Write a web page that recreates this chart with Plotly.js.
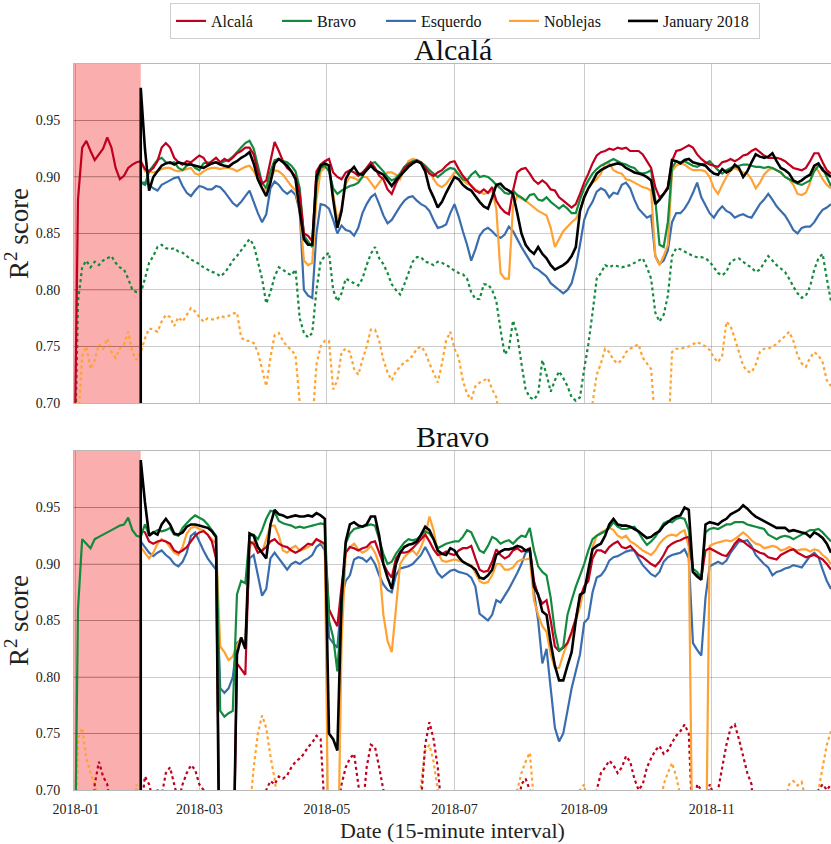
<!DOCTYPE html>
<html>
<head>
<meta charset="utf-8">
<script src="https://cdn.plot.ly/plotly-3.0.1.min.js"></script>
<style>
  html, body { margin: 0; padding: 0; background: #ffffff; }
  #chart { width: 831px; height: 844px; }
</style>
</head>
<body>
<div id="chart"></div>
<script>
// ---------------------------------------------------------------------------
// Rolling R² score of each station model, sampled every two days of 2018.
// Grid index i corresponds to 2017-12-31 + 2*i days (i = 0 .. 181).
// Models evaluated from February start at grid index 16 (2018-02-01).
// Values below 0.70 fall outside the plotted range and are clipped.
// ---------------------------------------------------------------------------
const gridStart = '2017-12-31';
const gridStepDays = 2;
const gridLength = 182;
const febIndex = 16;
const trainingWindowEnd = '2018-02-01';

const modelNames = ['Alcalá', 'Bravo', 'Esquerdo', 'Noblejas', 'January 2018'];
const panelTitles = ['Alcalá', 'Bravo'];
const monthTicks = ['2018-01-01', '2018-03-01', '2018-05-01', '2018-07-01', '2018-09-01', '2018-11-01'];
const scoreTicks = [0.70, 0.75, 0.80, 0.85, 0.90, 0.95];
const scoreRange = [0.70, 1.00];

// ----- Alcalá station -------------------------------------------------------
const alcalaAlcala = [
  0.60, 0.88, 0.926, 0.932, 0.923, 0.915, 0.92, 0.925, 0.935, 0.926, 0.908, 0.898, 0.901, 0.908, 0.911, 0.913,
  0.914, 0.907, 0.905, 0.908, 0.914, 0.926, 0.93, 0.926, 0.917, 0.913,
  0.911, 0.914, 0.913, 0.916, 0.919, 0.917, 0.911, 0.914, 0.917, 0.913,
  0.916, 0.914, 0.917, 0.921, 0.923, 0.926, 0.926, 0.92, 0.905, 0.894,
  0.897, 0.914, 0.931, 0.923, 0.914, 0.908, 0.905, 0.90, 0.885, 0.85,
  0.848, 0.843, 0.905, 0.911, 0.914, 0.916,
  0.904, 0.90, 0.898, 0.904, 0.906, 0.904, 0.901, 0.904, 0.908, 0.913,
  0.908, 0.901, 0.898, 0.889, 0.885, 0.894, 0.901, 0.908, 0.911, 0.913,
  0.914, 0.913, 0.908, 0.903, 0.901, 0.904, 0.906, 0.91, 0.913, 0.914,
  0.907, 0.901, 0.897, 0.892, 0.888, 0.886, 0.889, 0.886, 0.891, 0.879,
  0.873, 0.869, 0.867, 0.888, 0.904, 0.907, 0.908, 0.903, 0.897, 0.894,
  0.897, 0.894, 0.889, 0.888, 0.882, 0.879, 0.876, 0.873, 0.876,
  0.885, 0.895, 0.903, 0.912, 0.919, 0.922, 0.923, 0.925, 0.924, 0.926,
  0.925, 0.926, 0.923, 0.923, 0.923, 0.92, 0.914, 0.908, 0.891, 0.882,
  0.885, 0.891, 0.914, 0.923, 0.924, 0.926, 0.928, 0.926, 0.92, 0.916,
  0.913, 0.911, 0.91, 0.909, 0.913, 0.914, 0.916, 0.914, 0.916, 0.919,
  0.92, 0.923, 0.925, 0.922, 0.919, 0.917, 0.917, 0.917, 0.916, 0.914,
  0.911, 0.908, 0.907, 0.906, 0.908, 0.914, 0.921, 0.921, 0.913, 0.906,
  0.903
];
const alcalaBravo = [
  0.895, 0.893, 0.905, 0.91, 0.915, 0.917, 0.913, 0.912, 0.913, 0.908,
  0.906, 0.91, 0.912, 0.908, 0.906, 0.912, 0.913, 0.912, 0.913, 0.912,
  0.914, 0.915, 0.918, 0.922, 0.926, 0.93, 0.932, 0.925, 0.91, 0.895,
  0.89, 0.905, 0.915, 0.916, 0.914, 0.913, 0.91, 0.905, 0.89, 0.848,
  0.843, 0.838, 0.895, 0.908, 0.91, 0.905,
  0.89, 0.885, 0.888, 0.89, 0.892, 0.893, 0.895, 0.9, 0.908, 0.912,
  0.913, 0.909, 0.905, 0.9, 0.897, 0.899, 0.903, 0.909, 0.912, 0.914,
  0.915, 0.913, 0.91, 0.906, 0.903, 0.9, 0.903, 0.906, 0.908, 0.907,
  0.902, 0.898, 0.897, 0.902, 0.905, 0.9, 0.901, 0.9, 0.897, 0.893,
  0.89, 0.886, 0.885, 0.888, 0.884, 0.882, 0.879, 0.884, 0.885, 0.88,
  0.879, 0.882, 0.878, 0.875, 0.872, 0.875, 0.872, 0.868, 0.868,
  0.88, 0.89, 0.897, 0.903, 0.907, 0.91, 0.912, 0.914, 0.916, 0.914,
  0.912, 0.911, 0.909, 0.908, 0.904, 0.903, 0.904, 0.906, 0.88, 0.84,
  0.838, 0.86, 0.908, 0.914, 0.913, 0.914, 0.912, 0.91, 0.909, 0.911,
  0.912, 0.914, 0.91, 0.906, 0.903, 0.906, 0.908, 0.909, 0.91, 0.911,
  0.911, 0.91, 0.909, 0.909, 0.908, 0.909, 0.908, 0.906, 0.904, 0.9,
  0.898, 0.896, 0.894, 0.893, 0.895, 0.897, 0.905, 0.91, 0.908, 0.9,
  0.892
];
const alcalaEsquerdo = [
  0.895, 0.895, 0.893, 0.89, 0.888, 0.893, 0.895, 0.897, 0.899, 0.9,
  0.892, 0.886, 0.883, 0.888, 0.892, 0.891, 0.889, 0.889, 0.892, 0.891,
  0.887, 0.882, 0.877, 0.874, 0.878, 0.883, 0.888, 0.878, 0.868, 0.86,
  0.867, 0.89, 0.896, 0.893, 0.888, 0.885, 0.888, 0.884, 0.87, 0.80,
  0.795, 0.793, 0.85, 0.876, 0.875, 0.872,
  0.862, 0.85, 0.857, 0.853, 0.852, 0.848, 0.855, 0.868, 0.876, 0.882,
  0.885, 0.876, 0.866, 0.859, 0.862, 0.868, 0.874, 0.879, 0.882, 0.883,
  0.879, 0.876, 0.874, 0.87, 0.862, 0.855, 0.856, 0.858, 0.868, 0.876,
  0.865, 0.852, 0.84, 0.826, 0.836, 0.848, 0.853, 0.855, 0.852, 0.848,
  0.846, 0.849, 0.856, 0.852, 0.845, 0.838, 0.832, 0.826, 0.82, 0.818,
  0.815, 0.812, 0.806, 0.803, 0.80, 0.797, 0.80, 0.806, 0.82,
  0.84, 0.862, 0.872, 0.878, 0.887, 0.89, 0.888, 0.882, 0.886, 0.885,
  0.893, 0.895, 0.89, 0.88, 0.872, 0.868, 0.864, 0.866, 0.83, 0.823,
  0.826, 0.835, 0.86, 0.868, 0.868, 0.872, 0.878, 0.886, 0.895, 0.882,
  0.875, 0.868, 0.864, 0.87, 0.874, 0.87, 0.868, 0.864, 0.866, 0.867,
  0.865, 0.864, 0.87, 0.876, 0.88, 0.885, 0.88, 0.874, 0.87, 0.866,
  0.86, 0.853, 0.85, 0.855, 0.856, 0.856, 0.86, 0.866, 0.871, 0.873,
  0.876
];
const alcalaNoblejas = [
  0.915, 0.905, 0.905, 0.904, 0.905, 0.907, 0.908, 0.908, 0.906, 0.905,
  0.906, 0.907, 0.908, 0.903, 0.902, 0.905, 0.907, 0.908, 0.908, 0.907,
  0.908, 0.908, 0.907, 0.905, 0.907, 0.909, 0.91, 0.905, 0.898, 0.89,
  0.888, 0.898, 0.906, 0.905, 0.902, 0.897, 0.892, 0.888, 0.87, 0.826,
  0.822, 0.824, 0.88, 0.905, 0.908, 0.908,
  0.885, 0.862, 0.872, 0.894, 0.9, 0.899, 0.897, 0.9, 0.9, 0.895,
  0.89, 0.895, 0.9, 0.904, 0.904, 0.902, 0.898, 0.907, 0.914, 0.916,
  0.915, 0.913, 0.91, 0.906, 0.898, 0.893, 0.891, 0.894, 0.899, 0.904,
  0.903, 0.897, 0.894, 0.893, 0.889, 0.887, 0.885, 0.886, 0.888, 0.872,
  0.815, 0.81, 0.81, 0.875, 0.883, 0.881, 0.879, 0.876, 0.873, 0.87,
  0.868, 0.866, 0.855, 0.838, 0.845, 0.852, 0.856, 0.86, 0.863,
  0.87, 0.882, 0.89, 0.895, 0.898, 0.903, 0.912, 0.912, 0.906, 0.904,
  0.903, 0.898, 0.897, 0.895, 0.893, 0.891, 0.89, 0.888, 0.83, 0.822,
  0.83, 0.84, 0.905, 0.91, 0.912, 0.911, 0.908, 0.906, 0.906, 0.906,
  0.905, 0.9, 0.89, 0.885, 0.893, 0.9, 0.906, 0.908, 0.906, 0.904,
  0.903, 0.898, 0.89, 0.895, 0.902, 0.906, 0.908, 0.906, 0.904, 0.9,
  0.898, 0.893, 0.885, 0.884, 0.886, 0.895, 0.91, 0.905, 0.898, 0.893,
  0.89
];
const alcalaJanuaryStart = 0.55;
const alcalaJanuary = [
  0.979, 0.925, 0.888, 0.9, 0.905, 0.91, 0.912, 0.913, 0.911, 0.913,
  0.912, 0.911, 0.911, 0.91, 0.909, 0.908, 0.91, 0.912, 0.913, 0.911,
  0.91, 0.909, 0.912, 0.914, 0.917, 0.919, 0.922, 0.912, 0.898, 0.89,
  0.883, 0.895, 0.912, 0.916, 0.913, 0.91, 0.905, 0.898, 0.87, 0.845,
  0.84, 0.84, 0.9, 0.91, 0.912, 0.91,
  0.88, 0.855, 0.87, 0.898, 0.905, 0.909, 0.903, 0.902, 0.906, 0.91,
  0.906, 0.904, 0.902, 0.897, 0.892, 0.897, 0.901, 0.905, 0.909, 0.912,
  0.914, 0.912, 0.905, 0.89, 0.882, 0.873, 0.878, 0.886, 0.893, 0.9,
  0.898, 0.893, 0.89, 0.888, 0.883, 0.878, 0.874, 0.872, 0.882, 0.893,
  0.894, 0.89, 0.888, 0.885, 0.868, 0.85, 0.84, 0.835, 0.832, 0.838,
  0.832, 0.828, 0.822, 0.818, 0.82, 0.822, 0.825, 0.83, 0.838,
  0.87, 0.882, 0.89, 0.896, 0.903, 0.906, 0.908, 0.91, 0.911, 0.912,
  0.911, 0.908, 0.906, 0.904, 0.903, 0.902, 0.9, 0.897, 0.876, 0.88,
  0.885, 0.89, 0.915, 0.914, 0.912, 0.915, 0.916, 0.913, 0.912, 0.911,
  0.91, 0.906, 0.903, 0.902, 0.907, 0.904, 0.906, 0.911, 0.908, 0.9,
  0.905, 0.913, 0.92, 0.918, 0.917, 0.918, 0.921, 0.914, 0.908, 0.906,
  0.903, 0.897, 0.895, 0.897, 0.9, 0.902, 0.91, 0.912, 0.906, 0.903,
  0.9
];
// Reference scores of the Bravo and Noblejas models applied without retraining
const alcalaBravoReference = [
  0.60, 0.79, 0.82, 0.826, 0.82, 0.825, 0.822, 0.826, 0.828, 0.83, 0.824, 0.82, 0.818, 0.81, 0.80, 0.798,
  0.797, 0.81, 0.824, 0.83, 0.838, 0.84, 0.837, 0.836, 0.837, 0.834,
  0.833, 0.83, 0.827, 0.825, 0.823, 0.82, 0.818, 0.816, 0.815, 0.812,
  0.815, 0.82, 0.826, 0.83, 0.835, 0.84, 0.845, 0.84, 0.825, 0.81,
  0.788, 0.798, 0.812, 0.82, 0.818, 0.815, 0.813, 0.818, 0.775, 0.762,
  0.758, 0.762, 0.80, 0.825, 0.83, 0.833,
  0.80, 0.79, 0.797, 0.81, 0.808, 0.806, 0.804, 0.81, 0.822, 0.832,
  0.838, 0.828, 0.823, 0.815, 0.805, 0.80, 0.796, 0.805, 0.815, 0.825,
  0.829, 0.829, 0.825, 0.824, 0.822, 0.825, 0.824, 0.822, 0.82, 0.817,
  0.815, 0.814, 0.81, 0.798, 0.792, 0.792, 0.805, 0.805, 0.80, 0.79,
  0.765, 0.743, 0.748, 0.773, 0.76, 0.735, 0.712, 0.705, 0.703, 0.708,
  0.738, 0.725, 0.71, 0.72, 0.728, 0.722, 0.715, 0.705, 0.702,
  0.705, 0.73, 0.752, 0.78, 0.81, 0.815, 0.822, 0.82, 0.822, 0.821,
  0.82, 0.821, 0.822, 0.824, 0.826, 0.828, 0.82, 0.81, 0.78, 0.772,
  0.778, 0.795, 0.83, 0.837, 0.836, 0.834, 0.832, 0.83, 0.829, 0.829,
  0.828, 0.825, 0.82, 0.815, 0.813, 0.816, 0.825, 0.827, 0.828, 0.825,
  0.822, 0.82, 0.816, 0.818, 0.824, 0.83, 0.826, 0.822, 0.819, 0.816,
  0.81, 0.803, 0.797, 0.793, 0.795, 0.803, 0.818, 0.828, 0.832, 0.81,
  0.79
];
const alcalaNoblejasReference = [
  0.55, 0.68, 0.742, 0.75, 0.73, 0.738, 0.752, 0.748, 0.757, 0.745, 0.74, 0.748, 0.752, 0.763, 0.745, 0.738,
  0.745, 0.757, 0.766, 0.765, 0.763, 0.772, 0.778, 0.776, 0.768, 0.776,
  0.772, 0.778, 0.784, 0.781, 0.776, 0.772, 0.775, 0.774, 0.774, 0.777,
  0.776, 0.777, 0.779, 0.78, 0.758, 0.755, 0.755, 0.753, 0.745, 0.73,
  0.715, 0.74, 0.76, 0.762, 0.755, 0.75, 0.747, 0.742, 0.70, 0.66,
  0.66, 0.68, 0.734, 0.75, 0.755, 0.755,
  0.712, 0.72, 0.745, 0.748, 0.745, 0.73, 0.725, 0.738, 0.75, 0.765,
  0.765, 0.755, 0.738, 0.727, 0.72, 0.728, 0.732, 0.736, 0.738, 0.742,
  0.748, 0.75, 0.745, 0.735, 0.727, 0.718, 0.735, 0.755, 0.763, 0.748,
  0.74, 0.72, 0.708, 0.703, 0.715, 0.718, 0.72, 0.722, 0.712, 0.705,
  0.68, 0.65, 0.65, 0.65, 0.65, 0.65, 0.65, 0.65, 0.65, 0.65,
  0.65, 0.65, 0.65, 0.65, 0.65, 0.65, 0.65, 0.65, 0.65,
  0.65, 0.65, 0.65, 0.7, 0.725, 0.735, 0.748, 0.745, 0.738, 0.735,
  0.738, 0.745, 0.748, 0.75, 0.752, 0.74, 0.735, 0.73, 0.68, 0.65,
  0.65, 0.66, 0.745, 0.748, 0.748, 0.749, 0.75, 0.752, 0.754, 0.752,
  0.75, 0.747, 0.74, 0.736, 0.742, 0.772, 0.768, 0.757, 0.745, 0.733,
  0.728, 0.727, 0.734, 0.745, 0.748, 0.748, 0.75, 0.752, 0.756, 0.759,
  0.763, 0.755, 0.742, 0.735, 0.732, 0.74, 0.745, 0.742, 0.736, 0.72,
  0.715
];

// ----- Bravo station --------------------------------------------------------
const bravoBravo = [
  0.55, 0.86, 0.922, 0.918, 0.914, 0.922, 0.924, 0.926, 0.928, 0.93, 0.932, 0.934, 0.935, 0.941, 0.93, 0.925,
  0.924, 0.935, 0.926, 0.928, 0.93, 0.929, 0.93, 0.932, 0.926, 0.925,
  0.932, 0.936, 0.94, 0.943, 0.941, 0.939, 0.935, 0.93, 0.925, 0.77,
  0.765, 0.768, 0.77, 0.873, 0.885, 0.883, 0.925, 0.926, 0.922, 0.93,
  0.94, 0.947, 0.946, 0.938, 0.936, 0.935, 0.934, 0.932, 0.933, 0.932,
  0.933, 0.934, 0.935, 0.936, 0.935, 0.85,
  0.835, 0.805, 0.86, 0.918, 0.927, 0.931, 0.932, 0.933, 0.934, 0.935,
  0.934, 0.922, 0.909, 0.9, 0.902, 0.909, 0.914, 0.919, 0.922, 0.921,
  0.922, 0.925, 0.929, 0.927, 0.922, 0.914, 0.916, 0.918, 0.919, 0.92,
  0.92, 0.924, 0.93, 0.928, 0.92, 0.912, 0.91, 0.916, 0.924, 0.922,
  0.918, 0.92, 0.921, 0.918, 0.922, 0.925, 0.924, 0.932, 0.912, 0.898,
  0.893, 0.89, 0.87, 0.84, 0.823, 0.827, 0.855, 0.868, 0.88,
  0.89, 0.9, 0.912, 0.922, 0.925, 0.927, 0.929, 0.932, 0.937, 0.933,
  0.931, 0.931, 0.932, 0.933, 0.928, 0.922, 0.917, 0.92, 0.924, 0.93,
  0.936, 0.938, 0.937, 0.94, 0.941, 0.94, 0.93, 0.896, 0.893, 0.888,
  0.928, 0.931, 0.932, 0.931, 0.933, 0.935, 0.935, 0.937, 0.937, 0.937,
  0.935, 0.934, 0.933, 0.932, 0.931, 0.926, 0.924, 0.922, 0.924, 0.925,
  0.924, 0.922, 0.924, 0.926, 0.928, 0.93, 0.93, 0.931, 0.928, 0.924,
  0.92
];
const bravoAlcala = [
  0.93, 0.928, 0.92, 0.918, 0.92, 0.921, 0.92, 0.918, 0.912, 0.91,
  0.912, 0.915, 0.92, 0.925, 0.928, 0.929, 0.926, 0.92, 0.905, 0.6,
  0.6, 0.6, 0.6, 0.812, 0.807, 0.802, 0.92, 0.918, 0.91, 0.912,
  0.915, 0.92, 0.922, 0.918, 0.916, 0.915, 0.912, 0.91, 0.912, 0.915,
  0.918, 0.917, 0.922, 0.92, 0.918, 0.86,
  0.852, 0.845, 0.88, 0.91, 0.915, 0.914, 0.912, 0.914, 0.915, 0.919,
  0.92, 0.91, 0.9, 0.893, 0.888, 0.905, 0.91, 0.91, 0.911, 0.914,
  0.918, 0.922, 0.926, 0.92, 0.913, 0.908, 0.909, 0.911, 0.909, 0.908,
  0.912, 0.914, 0.914, 0.916, 0.905, 0.895, 0.893, 0.894, 0.902, 0.913,
  0.908, 0.905, 0.907, 0.912, 0.914, 0.911, 0.912, 0.914, 0.885, 0.872,
  0.865, 0.868, 0.85, 0.827, 0.823, 0.826, 0.83, 0.84, 0.852,
  0.87, 0.88, 0.885, 0.905, 0.912, 0.912, 0.91, 0.915, 0.918, 0.92,
  0.915, 0.914, 0.916, 0.912, 0.908, 0.906, 0.903, 0.9, 0.898, 0.902,
  0.908, 0.915, 0.918, 0.92, 0.921, 0.923, 0.924, 0.893, 0.89, 0.888,
  0.912, 0.914, 0.912, 0.91, 0.908, 0.907, 0.912, 0.918, 0.922, 0.92,
  0.917, 0.914, 0.912, 0.91, 0.909, 0.906, 0.905, 0.904, 0.908, 0.91,
  0.912, 0.913, 0.91, 0.908, 0.906, 0.907, 0.908, 0.906, 0.904, 0.9,
  0.895
];
const bravoEsquerdo = [
  0.92, 0.915, 0.91, 0.907, 0.91, 0.912, 0.908, 0.905, 0.9, 0.898,
  0.902, 0.91, 0.925, 0.928, 0.92, 0.912, 0.905, 0.9, 0.895, 0.79,
  0.786, 0.79, 0.80, 0.83, 0.833, 0.83, 0.905, 0.908, 0.89, 0.872,
  0.878, 0.905, 0.91, 0.905, 0.9, 0.895, 0.9, 0.902, 0.9, 0.903,
  0.905, 0.908, 0.915, 0.918, 0.912, 0.835,
  0.83, 0.826, 0.87, 0.885, 0.89, 0.904, 0.906, 0.905, 0.902, 0.906,
  0.9, 0.89, 0.882, 0.877, 0.875, 0.89, 0.896, 0.897, 0.898, 0.9,
  0.904, 0.908, 0.915, 0.908, 0.9, 0.892, 0.888, 0.891, 0.894, 0.895,
  0.893, 0.892, 0.891, 0.888, 0.88, 0.856, 0.853, 0.85, 0.855, 0.868,
  0.866, 0.872, 0.878, 0.885, 0.892, 0.9, 0.91, 0.912, 0.875, 0.85,
  0.812, 0.825, 0.79, 0.755, 0.743, 0.75, 0.77, 0.79, 0.805,
  0.82, 0.848, 0.852, 0.875, 0.888, 0.89, 0.895, 0.903, 0.906, 0.907,
  0.909, 0.911, 0.912, 0.912, 0.905, 0.899, 0.895, 0.891, 0.889, 0.893,
  0.902, 0.906, 0.908, 0.909, 0.91, 0.913, 0.905, 0.83, 0.824, 0.819,
  0.87, 0.898, 0.9, 0.902, 0.9, 0.903, 0.91, 0.915, 0.92, 0.92,
  0.921, 0.916, 0.908, 0.904, 0.9, 0.897, 0.89, 0.893, 0.894, 0.896,
  0.897, 0.899, 0.898, 0.897, 0.902, 0.907, 0.91, 0.906, 0.895, 0.885,
  0.878
];
const bravoNoblejas = [
  0.915, 0.91, 0.905, 0.91, 0.918, 0.922, 0.92, 0.915, 0.91, 0.908,
  0.915, 0.927, 0.932, 0.933, 0.931, 0.93, 0.926, 0.922, 0.918, 0.827,
  0.822, 0.815, 0.818, 0.828, 0.835, 0.828, 0.915, 0.92, 0.915, 0.91,
  0.922, 0.934, 0.934, 0.925, 0.912, 0.91, 0.914, 0.916, 0.912, 0.913,
  0.915, 0.918, 0.922, 0.92, 0.915, 0.6,
  0.6, 0.6, 0.83, 0.91, 0.915, 0.918, 0.913, 0.91, 0.912, 0.916,
  0.91, 0.9, 0.855, 0.832, 0.822, 0.86, 0.9, 0.906, 0.91, 0.912,
  0.908, 0.915, 0.925, 0.942, 0.93, 0.91, 0.903, 0.902, 0.903, 0.904,
  0.903, 0.902, 0.9, 0.899, 0.892, 0.885, 0.883, 0.884, 0.89, 0.9,
  0.9, 0.895, 0.895, 0.897, 0.902, 0.904, 0.904, 0.905, 0.868, 0.855,
  0.845, 0.84, 0.82, 0.808, 0.808, 0.82, 0.83, 0.838, 0.85,
  0.862, 0.88, 0.89, 0.915, 0.925, 0.928, 0.93, 0.932, 0.93, 0.925,
  0.923, 0.925, 0.92, 0.918, 0.915, 0.912, 0.91, 0.908, 0.912, 0.918,
  0.922, 0.925, 0.926, 0.925, 0.928, 0.93, 0.915, 0.6, 0.6, 0.6,
  0.6, 0.916, 0.918, 0.919, 0.92, 0.921, 0.92, 0.922, 0.925, 0.928,
  0.925, 0.921, 0.918, 0.917, 0.914, 0.915, 0.916, 0.915, 0.912, 0.913,
  0.915, 0.913, 0.912, 0.913, 0.913, 0.911, 0.913, 0.912, 0.908, 0.905,
  0.9
];
const bravoJanuaryStart = 0.55;
const bravoJanuary = [
  0.992, 0.955, 0.925, 0.928, 0.926, 0.935, 0.94, 0.935, 0.927, 0.926,
  0.928, 0.933, 0.935, 0.935, 0.934, 0.933, 0.932, 0.929, 0.924, 0.55,
  0.55, 0.55, 0.6, 0.82, 0.835, 0.825, 0.927, 0.925, 0.915, 0.91,
  0.905, 0.935, 0.948, 0.944, 0.943, 0.941, 0.942, 0.943, 0.942, 0.942,
  0.943, 0.942, 0.945, 0.943, 0.94, 0.75,
  0.745, 0.735, 0.87, 0.92, 0.935, 0.937, 0.934, 0.933, 0.935, 0.942,
  0.942, 0.925, 0.9, 0.888, 0.878, 0.9, 0.91, 0.915, 0.917, 0.918,
  0.92, 0.926, 0.933, 0.93, 0.922, 0.912, 0.909, 0.908, 0.914, 0.912,
  0.906, 0.902, 0.9, 0.898, 0.895, 0.888, 0.887, 0.89, 0.895, 0.908,
  0.911, 0.913, 0.913, 0.914, 0.916, 0.915, 0.912, 0.913, 0.88, 0.873,
  0.858, 0.855, 0.83, 0.81, 0.797, 0.797, 0.81, 0.822, 0.85,
  0.873, 0.875, 0.895, 0.913, 0.916, 0.918, 0.925, 0.935, 0.94, 0.935,
  0.934, 0.934, 0.933, 0.931, 0.929, 0.926, 0.923, 0.924, 0.927, 0.929,
  0.934, 0.937, 0.94, 0.942, 0.943, 0.95, 0.948, 0.893, 0.889, 0.886,
  0.935, 0.937, 0.936, 0.935, 0.938, 0.94, 0.944, 0.946, 0.948, 0.952,
  0.949, 0.945, 0.942, 0.94, 0.938, 0.936, 0.934, 0.932, 0.932, 0.932,
  0.929, 0.93, 0.929, 0.928, 0.927, 0.924, 0.928, 0.926, 0.923, 0.918,
  0.91
];
// Reference scores of the Noblejas and Alcalá models applied without retraining
const bravoNoblejasReference = [
  0.55, 0.745, 0.755, 0.728, 0.715, 0.705, 0.69, 0.65, 0.65, 0.65,
  0.65, 0.65, 0.65, 0.65, 0.65, 0.705, 0.68, 0.65, 0.65, 0.65,
  0.65, 0.65, 0.65, 0.65, 0.65, 0.65, 0.65, 0.65, 0.65, 0.65,
  0.65, 0.65, 0.65, 0.65, 0.65, 0.65, 0.65, 0.65, 0.65, 0.65,
  0.65, 0.65, 0.68, 0.72, 0.75, 0.766, 0.755, 0.73, 0.71, 0.68,
  0.65, 0.65, 0.65, 0.65, 0.65, 0.65, 0.65, 0.65, 0.65, 0.65,
  0.65, 0.65, 0.65, 0.65, 0.65, 0.65, 0.65, 0.65, 0.65, 0.65,
  0.65, 0.65, 0.65, 0.65, 0.65, 0.65, 0.65, 0.65, 0.65, 0.65,
  0.65, 0.65, 0.67, 0.705, 0.735, 0.74, 0.725, 0.7, 0.65, 0.65,
  0.65, 0.65, 0.65, 0.65, 0.65, 0.65, 0.65, 0.65, 0.65, 0.65,
  0.65, 0.65, 0.65, 0.65, 0.65, 0.68, 0.7, 0.715, 0.725, 0.733,
  0.69, 0.65, 0.65, 0.65, 0.65, 0.65, 0.65, 0.65, 0.65, 0.65,
  0.65, 0.7, 0.705, 0.68, 0.65, 0.65, 0.65, 0.65, 0.65, 0.65,
  0.65, 0.65, 0.65, 0.65, 0.65, 0.65, 0.65, 0.65, 0.65, 0.65,
  0.68, 0.705, 0.715, 0.724, 0.712, 0.695, 0.65, 0.65, 0.65, 0.65,
  0.65, 0.65, 0.65, 0.65, 0.65, 0.65, 0.65, 0.65, 0.65, 0.65,
  0.65, 0.65, 0.65, 0.65, 0.65, 0.65, 0.65, 0.65, 0.65, 0.65,
  0.69, 0.705, 0.708, 0.704, 0.707, 0.69, 0.65, 0.68, 0.7, 0.72,
  0.74, 0.752
];
const bravoAlcalaReference = [
  0.55, 0.65, 0.65, 0.65, 0.65, 0.705, 0.725, 0.712, 0.705, 0.68,
  0.65, 0.65, 0.65, 0.65, 0.65, 0.65, 0.68, 0.712, 0.705, 0.69,
  0.7, 0.695, 0.715, 0.72, 0.705, 0.69, 0.705, 0.715, 0.722, 0.718,
  0.705, 0.7, 0.69, 0.65, 0.65, 0.65, 0.65, 0.65, 0.65, 0.65,
  0.65, 0.65, 0.65, 0.65, 0.65, 0.68, 0.7, 0.708, 0.705, 0.712,
  0.71, 0.713, 0.72, 0.725, 0.728, 0.732, 0.738, 0.742, 0.748, 0.745,
  0.68, 0.65, 0.65, 0.68, 0.705, 0.72, 0.728, 0.732, 0.705, 0.68,
  0.72, 0.74, 0.738, 0.72, 0.7, 0.65, 0.65, 0.65, 0.65, 0.65,
  0.65, 0.65, 0.65, 0.69, 0.74, 0.76, 0.745, 0.72, 0.68, 0.65,
  0.65, 0.65, 0.65, 0.65, 0.65, 0.65, 0.65, 0.65, 0.65, 0.65,
  0.65, 0.65, 0.65, 0.65, 0.65, 0.65, 0.68, 0.705, 0.71, 0.7,
  0.68, 0.65, 0.65, 0.65, 0.65, 0.65, 0.65, 0.65, 0.65, 0.65,
  0.65, 0.65, 0.65, 0.65, 0.68, 0.7, 0.715, 0.72, 0.726, 0.722,
  0.715, 0.72, 0.73, 0.725, 0.71, 0.7, 0.705, 0.72, 0.728, 0.735,
  0.739, 0.732, 0.735, 0.742, 0.748, 0.752, 0.758, 0.75, 0.66, 0.705,
  0.7, 0.68, 0.705, 0.695, 0.7, 0.72, 0.74, 0.755, 0.758, 0.745,
  0.73, 0.715, 0.705, 0.65, 0.65, 0.65, 0.65, 0.65, 0.65, 0.65,
  0.65, 0.65, 0.65, 0.65, 0.65, 0.65, 0.65, 0.68, 0.7, 0.705,
  0.7, 0.705
];

// ----- Styling ------------------------------------------------------------
const colors = {
  'Alcalá': '#c0001e',
  'Bravo': '#138a3d',
  'Esquerdo': '#3a6dae',
  'Noblejas': '#ffa233',
  'January 2018': '#000000'
};
const legendWidths = { 'Alcalá': 61, 'Bravo': 59, 'Esquerdo': 78, 'Noblejas': 74, 'January 2018': 91 };
const serif = 'Liberation Serif';

// ----- Date grid ----------------------------------------------------------
const dayMs = 86400000;
const t0 = Date.parse(gridStart + 'T00:00:00Z');
const dates = Array.from({ length: gridLength }, (_, i) =>
  new Date(t0 + i * gridStepDays * dayMs).toISOString().slice(0, 10));

const lengthProblems = [];
function series(label, values, startIndex, startValue) {
  if (startIndex + values.length !== gridLength) {
    lengthProblems.push(label + ': ' + values.length);
  }
  const x = dates.slice(startIndex, startIndex + values.length);
  if (startValue !== undefined) {
    return { x: [x[0]].concat(x), y: [startValue].concat(values) };
  }
  return { x: x, y: values };
}

function makeTrace(label, model, values, startIndex, opts) {
  const o = opts || {};
  const s = series(label, values, startIndex, o.startValue);
  const dotted = !!o.dotted;
  return {
    type: 'scatter', mode: 'lines',
    x: s.x, y: s.y,
    xaxis: o.xaxis, yaxis: o.yaxis,
    name: model,
    legendgroup: model,
    legendrank: modelNames.indexOf(model) + 1,
    legendwidth: legendWidths[model],
    showlegend: !!o.legend,
    hoverinfo: 'skip',
    line: {
      color: colors[model],
      width: model === 'January 2018' ? 2.6 : 2.2,
      dash: dotted ? 'dot' : 'solid',
      simplify: false
    }
  };
}

const upperPanel = { xaxis: 'x', yaxis: 'y' };
const lowerPanel = { xaxis: 'x2', yaxis: 'y2' };
function opt(base, extra) { return Object.assign({}, base, extra || {}); }

const data = [
  // Alcalá station
  makeTrace('alcalaNoblejasReference', 'Noblejas', alcalaNoblejasReference, 0, opt(upperPanel, { dotted: true })),
  makeTrace('alcalaBravoReference', 'Bravo', alcalaBravoReference, 0, opt(upperPanel, { dotted: true })),
  makeTrace('alcalaEsquerdo', 'Esquerdo', alcalaEsquerdo, febIndex, opt(upperPanel, { legend: true })),
  makeTrace('alcalaNoblejas', 'Noblejas', alcalaNoblejas, febIndex, opt(upperPanel, { legend: true })),
  makeTrace('alcalaBravo', 'Bravo', alcalaBravo, febIndex, opt(upperPanel, { legend: true })),
  makeTrace('alcalaAlcala', 'Alcalá', alcalaAlcala, 0, opt(upperPanel, { legend: true })),
  makeTrace('alcalaJanuary', 'January 2018', alcalaJanuary, febIndex, opt(upperPanel, { legend: true, startValue: alcalaJanuaryStart })),
  // Bravo station
  makeTrace('bravoNoblejasReference', 'Noblejas', bravoNoblejasReference, 0, opt(lowerPanel, { dotted: true })),
  makeTrace('bravoAlcalaReference', 'Alcalá', bravoAlcalaReference, 0, opt(lowerPanel, { dotted: true })),
  makeTrace('bravoEsquerdo', 'Esquerdo', bravoEsquerdo, febIndex, opt(lowerPanel)),
  makeTrace('bravoNoblejas', 'Noblejas', bravoNoblejas, febIndex, opt(lowerPanel)),
  makeTrace('bravoAlcala', 'Alcalá', bravoAlcala, febIndex, opt(lowerPanel)),
  makeTrace('bravoBravo', 'Bravo', bravoBravo, 0, opt(lowerPanel)),
  makeTrace('bravoJanuary', 'January 2018', bravoJanuary, febIndex, opt(lowerPanel, { startValue: bravoJanuaryStart }))
];

// ----- Layout ------------------------------------------------------------
const xRange = ['2017-12-31 02:10', '2018-12-28 00:00'];
const gridColor = 'rgba(0,0,0,0.2)';
const frameColor = '#b9b9b9';
const topDomain = [0.5331, 1];
const botDomain = [0, 0.4669];

const xCommon = {
  type: 'date', range: xRange,
  tickvals: monthTicks, tickformat: '%Y-%m',
  showgrid: true, gridcolor: gridColor, gridwidth: 1,
  showline: true, linecolor: frameColor, linewidth: 1, mirror: true,
  ticks: '', zeroline: false,
  tickfont: { family: serif, size: 14, color: '#222' },
  ticklabelstandoff: 6
};
const yCommon = {
  range: scoreRange, tickvals: scoreTicks, tickformat: '.2f',
  showgrid: true, gridcolor: gridColor, gridwidth: 1,
  showline: true, linecolor: frameColor, linewidth: 1, mirror: false,
  ticks: '', zeroline: false,
  tickfont: { family: serif, size: 14, color: '#222' },
  ticklabelstandoff: 10,
  title: { text: 'R<sup>2</sup> score', font: { family: serif, size: 27, color: '#222' }, standoff: 4 }
};

// Shaded January training window, with the score grid redrawn over the tint
function trainingShade(xref, yref) {
  const shapes = [{
    type: 'rect', xref: xref, yref: yref,
    x0: xRange[0], x1: trainingWindowEnd, y0: scoreRange[0], y1: scoreRange[1],
    fillcolor: 'rgba(248,110,110,0.56)', line: { width: 0 }, layer: 'below'
  }];
  scoreTicks.slice(1).forEach(function (v) {
    shapes.push({
      type: 'line', xref: xref, yref: yref,
      x0: xRange[0], x1: trainingWindowEnd, y0: v, y1: v,
      line: { color: 'rgba(130,40,40,0.28)', width: 1 }, layer: 'above'
    });
  });
  return shapes;
}

const layout = {
  width: 831, height: 844,
  margin: { l: 74, r: 0, t: 64, b: 54 },
  paper_bgcolor: '#ffffff', plot_bgcolor: '#ffffff',
  font: { family: serif, size: 14, color: '#222' },
  showlegend: true,
  legend: {
    orientation: 'h', x: 0.1268, xanchor: 'left', y: 1.084, yanchor: 'top',
    bgcolor: '#ffffff', bordercolor: '#cfcfcf', borderwidth: 1,
    font: { family: serif, size: 16, color: '#111' },
    traceorder: 'normal'
  },
  xaxis: Object.assign({}, xCommon, { anchor: 'y', showticklabels: false, matches: 'x2' }),
  yaxis: Object.assign({}, yCommon, { domain: topDomain, anchor: 'x' }),
  xaxis2: Object.assign({}, xCommon, {
    anchor: 'y2',
    title: { text: 'Date (15-minute interval)', font: { family: serif, size: 22, color: '#222' }, standoff: 6 }
  }),
  yaxis2: Object.assign({}, yCommon, { domain: botDomain, anchor: 'x2' }),
  shapes: trainingShade('x', 'y').concat(trainingShade('x2', 'y2')).concat([
    // soft drop shadow behind the legend box
    { type: 'rect', xref: 'paper', yref: 'paper',
      x0: (173 - 74) / 757, x1: (758 - 74) / 757, y0: (790 - 34) / 726, y1: (790 - 6) / 726,
      fillcolor: 'rgba(0,0,0,0.22)', line: { width: 0 }, layer: 'above' }
  ]),
  annotations: [
    { text: panelTitles[0], xref: 'paper', yref: 'paper', x: 0.5, y: topDomain[1],
      xanchor: 'center', yanchor: 'bottom', showarrow: false, yshift: -4,
      font: { family: serif, size: 30, color: '#111' } },
    { text: panelTitles[1], xref: 'paper', yref: 'paper', x: 0.5, y: botDomain[1],
      xanchor: 'center', yanchor: 'bottom', showarrow: false, yshift: -4,
      font: { family: serif, size: 30, color: '#111' } }
  ]
};

Plotly.newPlot('chart', data, layout, { displayModeBar: false, responsive: false }).then(function () {
  if (lengthProblems.length) {
    setTimeout(function () { throw new Error('Series length mismatch: ' + lengthProblems.join(', ')); }, 0);
  }
});
</script>
</body>
</html>
